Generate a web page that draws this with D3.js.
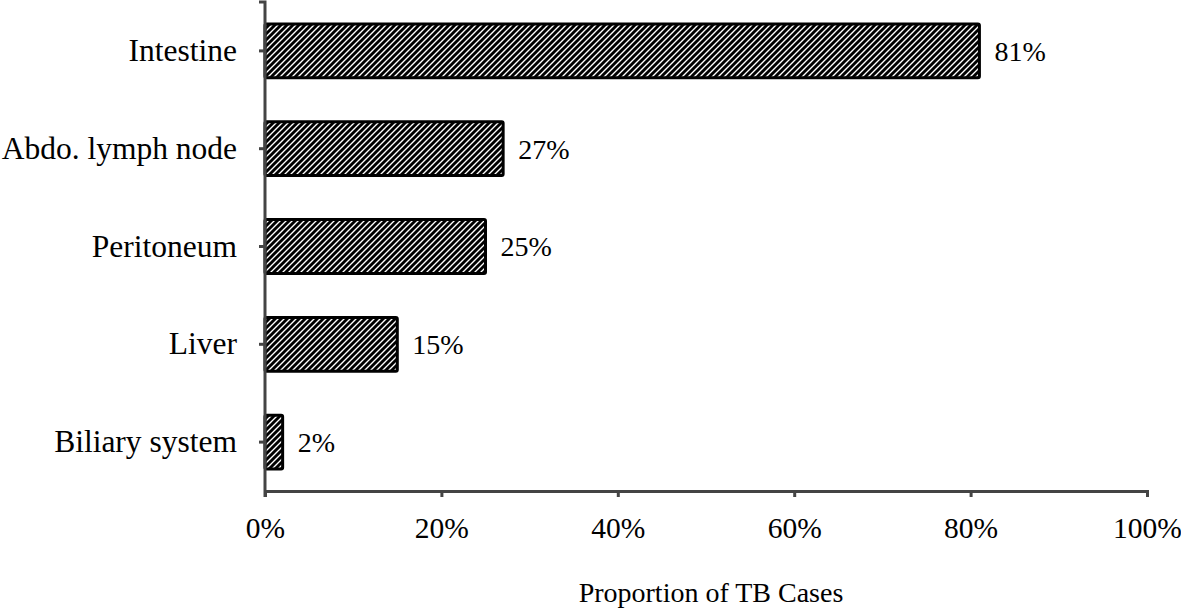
<!DOCTYPE html>
<html>
<head>
<meta charset="utf-8">
<script src="https://cdn.jsdelivr.net/npm/d3@7"></script>
<style>
  body { margin: 0; background: #fff; }
  svg { display: block; font-family: "Liberation Serif", "Times New Roman", serif; }
</style>
</head>
<body>
<svg id="chart"></svg>
<script>
// Data
const categories = ["Intestine", "Abdo. lymph node", "Peritoneum", "Liver", "Biliary system"];
const proportions = [81, 27, 25, 15, 2];
const xTicks = [0, 20, 40, 60, 80, 100];

const width = 1181;
const height = 609;
const margin = { top: 2, right: 34, bottom: 118, left: 265 };

const svg = d3.select("#chart")
  .attr("width", width)
  .attr("height", height);

// Hatch pattern (wide upward diagonal)
const defs = svg.append("defs");
defs.append("pattern")
  .attr("id", "hatch")
  .attr("patternUnits", "userSpaceOnUse")
  .attr("width", 6)
  .attr("height", 6)
  .call(p => {
    p.append("rect").attr("width", 6).attr("height", 6).attr("fill", "#fff");
    p.append("path")
      .attr("d", "M-1,1 l2,-2 M0,6 l6,-6 M5,7 l2,-2")
      .attr("stroke", "#000")
      .attr("stroke-width", 2.9);
  });

// Scales
const xScale = d3.scaleLinear()
  .domain([0, 100])
  .range([margin.left, width - margin.right]);

const yScale = d3.scaleBand()
  .domain(categories)
  .range([margin.top, height - margin.bottom])
  .paddingInner(0.45)
  .paddingOuter(0.225);

const axisColor = "#444";

// Bars
svg.selectAll("rect.bar")
  .data(categories)
  .enter()
  .append("rect")
  .attr("class", "bar")
  .attr("x", xScale(0))
  .attr("y", d => yScale(d))
  .attr("width", (d, i) => xScale(proportions[i]) - xScale(0))
  .attr("height", yScale.bandwidth())
  .attr("rx", 1.5)
  .attr("fill", "url(#hatch)")
  .attr("stroke", "#000")
  .attr("stroke-width", 3);

// Value labels
svg.selectAll("text.val")
  .data(categories)
  .enter()
  .append("text")
  .attr("class", "val")
  .attr("x", (d, i) => xScale(proportions[i]) + 15)
  .attr("y", d => yScale(d) + yScale.bandwidth() / 2)
  .attr("dy", "0.35em")
  .attr("font-size", 28)
  .attr("fill", "#000")
  .text((d, i) => proportions[i] + "%");

// X Axis
const xAxis = svg.append("g")
  .attr("transform", `translate(0,${height - margin.bottom})`)
  .call(d3.axisBottom(xScale)
    .tickValues(xTicks)
    .tickSize(6)
    .tickPadding(20)
    .tickFormat(d => d + "%"));

// Y Axis
const yAxis = svg.append("g")
  .attr("transform", `translate(${margin.left},0)`)
  .call(d3.axisLeft(yScale).tickSize(6).tickSizeOuter(0).tickPadding(22));

yAxis.select(".domain")
  .attr("d", `M-6,${margin.top}H0V${height - margin.bottom + 6}`);

[xAxis, yAxis].forEach(g => {
  g.select(".domain").attr("stroke", axisColor).attr("stroke-width", 3);
  g.selectAll(".tick line").attr("stroke", axisColor).attr("stroke-width", 3);
  g.selectAll(".tick text")
    .attr("font-family", "Liberation Serif, Times New Roman, serif")
    .attr("fill", "#000");
});
xAxis.selectAll(".tick text").attr("font-size", 29.5);
yAxis.selectAll(".tick text").attr("font-size", 31.5);

// Axis title
svg.append("text")
  .attr("x", (xScale(0) + xScale(100)) / 2 + 5)
  .attr("y", 602)
  .attr("text-anchor", "middle")
  .attr("font-size", 28)
  .attr("fill", "#000")
  .text("Proportion of TB Cases");
</script>
</body>
</html>
